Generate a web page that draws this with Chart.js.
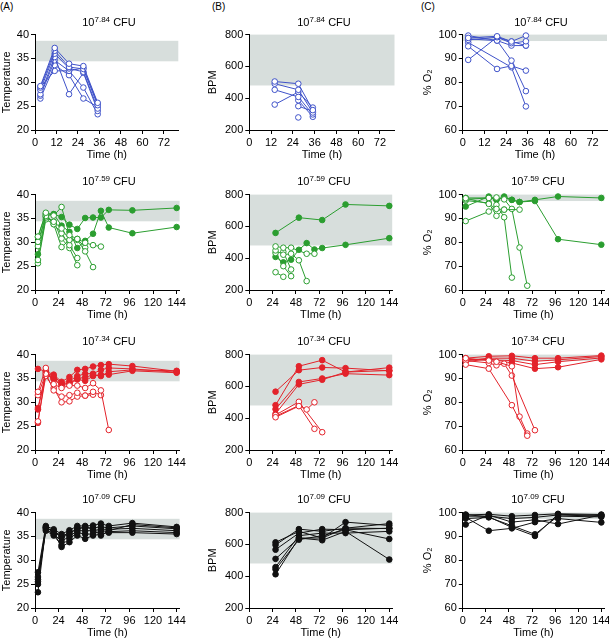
<!DOCTYPE html>
<html><head><meta charset="utf-8">
<script src="https://cdn.jsdelivr.net/npm/chart.js@4/dist/chart.umd.min.js"></script>
<style>
html,body{margin:0;padding:0;width:609px;height:639px;overflow:hidden;background:#fff;font-family:"Liberation Sans",Arial,sans-serif;}
.lbl{position:absolute;font-size:10px;color:#000;line-height:12px;}
.ttl{position:absolute;font-size:11px;color:#000;white-space:nowrap;transform:translate(-50%,-50%);line-height:14px;}
.ttl sup{font-size:8px;vertical-align:0;position:relative;top:-4px;}
canvas{position:absolute;}
</style></head><body>
<div class="lbl" style="left:0px;top:1px">(A)</div>
<div class="lbl" style="left:212px;top:1px">(B)</div>
<div class="lbl" style="left:421px;top:1px">(C)</div>
<script>
// ---------- time points ----------
const r1TempT = [3, 11, 19, 27, 35];
const r1BpmT = [14, 27, 35];
const r1O2T = [3, 19, 27, 35];
const tFull = [3, 11, 19, 27, 35, 43, 51, 59, 67, 75, 99, 144];
const r2BpmT = [27, 35, 43, 51, 59, 67, 75, 99, 144];
const r2O2T = [3, 27, 35, 43, 51, 59, 67, 75, 99, 144];
const r3BpmT = [27, 51, 59, 67, 75, 99, 144];
const r3O2T = [3, 27, 35, 43, 51, 59, 67, 75, 99, 144];
const r4BpmT = [27, 51, 75, 99, 144];
const r4O2T = [3, 27, 51, 75, 99, 144];

// ---------- dose labels ----------
const doses = ['7.84', '7.59', '7.34', '7.09'];

// ---------- tick labels ----------
const xTicksShort = [0, 12, 24, 36, 48, 60, 72];
const xTicksLong = [0, 24, 48, 72, 96, 120, 144];
const tempTicks = [20, 25, 30, 35, 40];
const bpmTicks = [200, 400, 600, 800];
const o2Ticks = [60, 70, 80, 90, 100];

// ---------- normal ranges (grey bands) ----------
const tempBand = [34.4, 38.7];
const bpmBand = [480, 800];
const o2Band = [97.3, 100];

// ---------- row 1: 10^7.84 CFU (all died) ----------
const r1Temp = [
  [29.2, 37.2, 33.9, 33.4, 25.7],
  [28.9, 36.6, 33.2, 32.8, 25.2],
  [28.4, 36.0, 32.9, 32.2, 24.5],
  [27.5, 35.3, 27.5, 32.0, 24.0],
  [27.2, 34.6, 32.4, 28.9, 23.3],
  [26.6, 33.6, 31.5, 26.6, 24.8],
  [29.0, 32.4, 32.4, 33.0, 25.5]
];
const r1Bpm = [
  [505, 491, 325],
  [491, 453, 310],
  [453, 408, 298],
  [360, 439, 341],
  [null, 387, 283],
  [null, 350, 318],
  [null, 279, null]
];
const r1O2 = [
  [98.6, 99.3, 97.1, 99.6],
  [97.8, 98.9, 96.4, 97.2],
  [99.6, 97.5, 95.4, 95.4],
  [98.2, 97.5, 89.1, 76.3],
  [95.1, 85.6, 86.9, 84.9],
  [89.4, 98.9, 97.1, 95.4],
  [96.7, null, 86.3, 69.9]
];

// ---------- row 2: 10^7.59 CFU ----------
const r2TempFilled = [
  [31.1, 36.0, 35.9, 35.3, 33.7, 32.8, 35.1, 35.2, 35.2, 36.8, 36.7, 37.2],
  [27.5, 35.5, 35.9, 33.5, 32.2, 28.8, 30.3, 31.8, 36.6, 33.1, 31.9, 33.2]
];
const r2TempOpen = [
  [31.2, 36.2, 35.6, 37.4, 31.5, 30.7, 29.9, 29.4, 29.1],
  [30.1, 35.5, 34.3, 32.9, 30.5, 30.5, 28.1, 24.8],
  [29.2, 35.8, 33.8, 31.9, 29.4, 26.7],
  [26.3, 35.2, 34.3, 30.8, 28.8, 25.2],
  [25.6, 34.8, 33.8, 29.0, 30.5, 30.7, 28.9]
];
const r2BpmFilled = [
  [559, null, null, 655, null, null, 640, 738, 729],
  [408, 374, 391, 453, 495, 455, 464, 484, 526]
];
const r2BpmOpen = [
  [474, 466, 466, null, 428, 428],
  [449, 422, 428, 387, 256],
  [433, 350, 287],
  [312, 283],
  [null, 440, 329]
];
const r2O2Filled = [
  [95.0, 99.2, 97.8, 99.2, 97.8, 96.9, null, 97.8, 99.2, 98.6],
  [98.6, 98.6, 98.0, 98.8, 97.8, 96.9, null, 97.3, 81.3, 79.0]
];
const r2O2Open = [
  [98.5, 96.1, 94.0, 93.7, null, 93.7],
  [98.0, 98.6, 98.8, 98.0, 94.0, 77.8, 61.8],
  [88.9, 92.9, 95.7, 90.5, 65.2],
  [97.5, 96.5, 91.1, 93.7]
];

// ---------- row 3: 10^7.34 CFU ----------
const r3TempFilled = [
  [37.0, 36.5, 35.8, 34.3, 35.3, 36.8, 37.0, 37.5, 37.8, 38.0, 37.6, 36.5],
  [28.8, 36.2, 35.5, 34.0, 34.5, 35.5, 36.0, 36.0, 36.8, 37.2, 37.0, 36.3],
  [28.5, 35.8, 35.0, 33.8, 34.0, 35.0, 35.2, 35.8, 35.5, 36.4, 36.8, 36.6],
  [25.7, 36.5, 34.8, 33.5, 33.8, 34.8, 34.5, 35.5, 35.8, 35.8, 36.6, 36.2]
];
const r3TempOpen = [
  [32.2, 37.2, 33.8, 33.0, 33.5, 33.5, 33.0, 34.0, 32.5, 24.2],
  [31.5, 36.0, 32.5, 31.2, 31.5, 32.0, 31.4, 32.2, 31.5],
  [26.0, 35.5, 33.0, 30.0, 30.2, 31.2, 31.4, 31.6]
];
const r3BpmFilled = [
  [567, 702, null, null, 719, 715, 698],
  [482, 727, null, null, 765, 690, 718],
  [457, 628, null, null, 650, 680, 671],
  [428, 613, null, null, 642, 690, 700]
];
const r3BpmOpen = [
  [406, 476, 455, 500],
  [420, 503, null, null, 312],
  [412, 480, null, 333]
];
const r3O2Filled = [
  [98.5, 99.3, null, null, 99.5, null, null, 98.5, 98.5, 99.6],
  [97.5, 98.5, null, null, 98.5, null, null, 97.2, 97.8, 99.2],
  [98.0, 97.8, null, null, 97.5, null, null, 95.8, 97.0, 98.6],
  [97.0, 98.2, null, null, 96.5, null, null, 94.1, 94.7, 98.0]
];
const r3O2Open = [
  [95.8, 94.1, null, null, 78.8, null, 66.0],
  [98.5, 97.5, 97.0, null, 95.1, 74.0, 66.9],
  [97.5, 96.5, 95.5, 96.2, 91.2, null, null, 68.3]
];

// ---------- row 4: 10^7.09 CFU (all survived) ----------
const r4Temp = [
  [27.5, 37.2, 36.5, 35.5, 36.3, 37.2, 37.2, 37.3, 37.7, 37.2, 37.8, 37.0],
  [26.5, 36.8, 36.0, 34.8, 35.5, 36.8, 36.8, 36.8, 37.0, 36.8, 37.2, 36.6],
  [26.0, 36.5, 35.5, 34.0, 35.0, 36.2, 36.2, 36.2, 36.5, 36.5, 36.7, 36.2],
  [25.5, 36.2, 35.2, 33.2, 34.5, 35.8, 35.5, 35.5, 36.2, 36.0, 36.2, 35.8],
  [25.0, 37.0, 35.8, 32.8, 33.8, 35.2, 34.5, 35.2, 35.5, 35.8, 35.8, 35.5],
  [23.3, 36.8, 36.2, 35.0, 35.8, 36.5, 37.0, 36.5, 35.2, 36.2, 37.5, 36.8]
];
const r4Bpm = [
  [613, 682, 640, 740, 719],
  [597, 696, 682, 702, 731],
  [567, 671, 696, 692, 702],
  [509, 640, 626, 682, 505],
  [457, 655, 671, 671, 682],
  [443, 630, 655, 692, 634],
  [412, 640, 640, 702, 700]
];
const r4O2 = [
  [99.0, 99.3, 98.5, 99.0, 99.5, 99.2],
  [98.5, 98.5, 97.5, 98.0, 99.0, 98.5],
  [97.5, 98.0, 94.5, 90.9, 98.5, 98.2],
  [95.0, 99.0, 96.0, 97.0, 95.2, 99.0],
  [98.0, 92.4, 93.4, 96.0, 97.5, 95.9],
  [99.2, 98.2, 93.8, 90.2, 99.3, 98.8]
];

// ---------- colours ----------
const blue = '#3f52c9', green = '#2b9e30', red = '#e3232b', black = '#111111';
const bandColor = '#d7dedc';

Chart.defaults.font.family = '"Liberation Sans", Arial, sans-serif';
Chart.defaults.font.size = 11;
Chart.defaults.color = '#000';

const bandPlugin = {
  id: 'band',
  beforeDraw(chart, args, opts) {
    if (!opts.range) return;
    const {ctx, chartArea, scales} = chart;
    const y = scales.y;
    const yTop = y.getPixelForValue(opts.range[1]);
    const yBot = y.getPixelForValue(opts.range[0]);
    ctx.save();
    ctx.fillStyle = opts.color;
    ctx.fillRect(chartArea.left, yTop, chartArea.right - chartArea.left, yBot - yTop);
    ctx.restore();
  }
};

function series(times, list, color, filled) {
  return list.map(vals => ({
    data: times.map((t, i) => ({x: t, y: vals[i]})).filter(p => p.y !== null && p.y !== undefined),
    borderColor: color,
    backgroundColor: filled ? color : '#fff',
    pointBackgroundColor: filled ? color : '#fff',
    pointBorderColor: color,
    pointRadius: 2.8,
    pointBorderWidth: 1,
    borderWidth: 1,
    tension: 0,
    clip: false
  }));
}

const cols = {
  A: {cl: 0, L: 35, Rs: 178.3, Rl: 179.6, tx: 109},
  B: {cl: 206, L: 249.3, Rs: 394.5, Rl: 392.2, tx: 324},
  C: {cl: 421, L: 462.8, Rs: 607, Rl: 604.2, tx: 538}
};
const rowTop = [34, 194, 354, 512];
const titleY = [23, 182, 341.5, 499.5];

function panel(colKey, row, yMin, yMax, yTicks, yTitle, xTitle, band, datasets) {
  const col = cols[colKey];
  const long = row > 0;
  const L = col.L, R = long ? col.Rl : col.Rs;
  const T = rowTop[row], plotH = 96;
  const padTop = 8, xh = 32;
  const yw = L - col.cl;
  const W = Math.ceil(R - col.cl) + 16;
  const padRight = W - (R - col.cl);
  const H = plotH + padTop + xh;
  const c = document.createElement('canvas');
  c.width = W; c.height = H;
  c.style.left = col.cl + 'px';
  c.style.top = (T - padTop) + 'px';
  c.style.width = W + 'px';
  c.style.height = H + 'px';
  document.body.appendChild(c);
  const xt = long ? xTicksLong : xTicksShort;
  new Chart(c, {
    type: 'line',
    data: {datasets},
    options: {
      responsive: false, animation: false, devicePixelRatio: 1, events: [],
      layout: {padding: {left: 0, top: padTop, right: padRight, bottom: 0}},
      plugins: {legend: {display: false}, tooltip: {enabled: false}, band: {range: band, color: bandColor}},
      scales: {
        x: {
          type: 'linear', min: 0, max: long ? 147 : 80,
          afterBuildTicks: a => { a.ticks = xt.map(v => ({value: v})); },
          afterFit: s => { s.height = xh; },
          grid: {display: true, drawOnChartArea: false, drawTicks: true, tickLength: 4, color: '#000', lineWidth: 1},
          border: {display: true, color: '#000', width: 1},
          ticks: {color: '#000', padding: 2, maxRotation: 0, autoSkip: false, font: {size: 11}},
          title: {display: true, text: xTitle, color: '#000', font: {size: 11}, padding: 0}
        },
        y: {
          type: 'linear', min: yMin, max: yMax,
          afterBuildTicks: a => { a.ticks = yTicks.map(v => ({value: v})); },
          afterFit: s => { s.width = yw; },
          grid: {display: true, drawOnChartArea: false, drawTicks: true, tickLength: 4, color: '#000', lineWidth: 1},
          border: {display: true, color: '#000', width: 1},
          ticks: {color: '#000', padding: 2, font: {size: 11}},
          title: {display: true, text: yTitle, color: '#000', font: {size: 11}, padding: 0}
        }
      }
    },
    plugins: [bandPlugin]
  });
  const t = document.createElement('div');
  t.className = 'ttl';
  t.style.left = (colKey === 'C' && row === 0 ? 541 : col.tx) + 'px';
  t.style.top = titleY[row] + 'px';
  t.innerHTML = '10<sup>' + doses[row] + '</sup> CFU';
  document.body.appendChild(t);
}

// Row 1
panel('A', 0, 20, 40, tempTicks, 'Temperature', 'Time (h)', tempBand, series(r1TempT, r1Temp, blue, false));
panel('B', 0, 200, 800, bpmTicks, 'BPM', 'Time (h)', bpmBand, series(r1BpmT, r1Bpm, blue, false));
panel('C', 0, 60, 100, o2Ticks, '% O\u2082', 'Time (h)', o2Band, series(r1O2T, r1O2, blue, false));
// Row 2
panel('A', 1, 20, 40, tempTicks, 'Temperature', 'Time (h)', tempBand,
  series(tFull, r2TempOpen, green, false).concat(series(tFull, r2TempFilled, green, true)));
panel('B', 1, 200, 800, bpmTicks, 'BPM', 'TIme (h)', bpmBand,
  series(r2BpmT, r2BpmOpen, green, false).concat(series(r2BpmT, r2BpmFilled, green, true)));
panel('C', 1, 60, 100, o2Ticks, '% O\u2082', 'Time (h)', o2Band,
  series(r2O2T, r2O2Open, green, false).concat(series(r2O2T, r2O2Filled, green, true)));
// Row 3
panel('A', 2, 20, 40, tempTicks, 'Temperature', 'Time (h)', tempBand,
  series(tFull, r3TempOpen, red, false).concat(series(tFull, r3TempFilled, red, true)));
panel('B', 2, 200, 800, bpmTicks, 'BPM', 'TIme (h)', bpmBand,
  series(r3BpmT, r3BpmOpen, red, false).concat(series(r3BpmT, r3BpmFilled, red, true)));
panel('C', 2, 60, 100, o2Ticks, '% O\u2082', 'Time (h)', o2Band,
  series(r3O2T, r3O2Open, red, false).concat(series(r3O2T, r3O2Filled, red, true)));
// Row 4
panel('A', 3, 20, 40, tempTicks, 'Temperature', 'Time (h)', tempBand, series(tFull, r4Temp, black, true));
panel('B', 3, 200, 800, bpmTicks, 'BPM', 'Time (h)', bpmBand, series(r4BpmT, r4Bpm, black, true));
panel('C', 3, 60, 100, o2Ticks, '% O\u2082', 'Time (h)', o2Band, series(r4O2T, r4O2, black, true));
</script>
</body></html>
